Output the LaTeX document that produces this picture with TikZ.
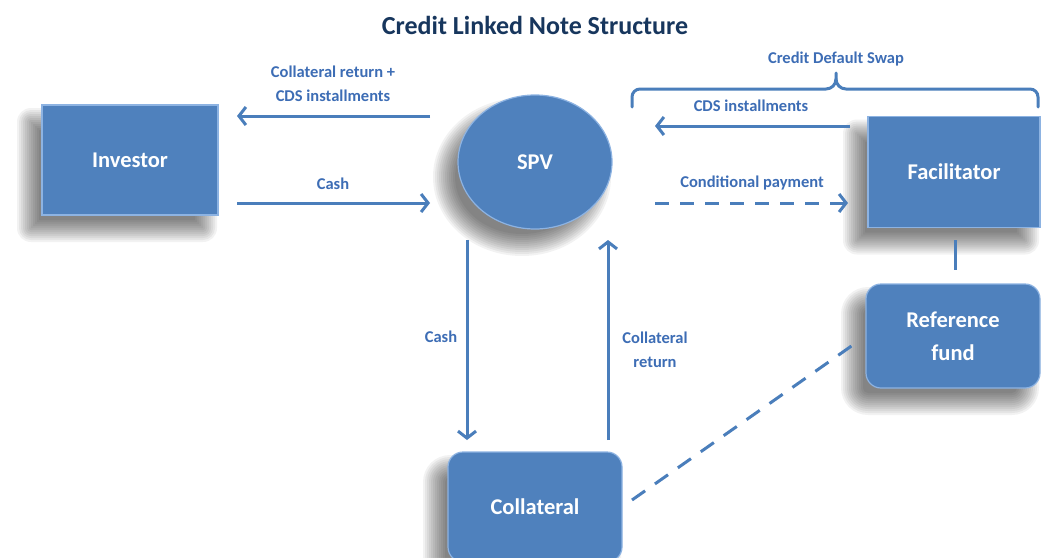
\documentclass[tikz,border=0pt]{standalone}
\usepackage{fontspec}
\setmainfont{Carlito}
\usetikzlibrary{arrows.meta,shapes.geometric}
\definecolor{boxblue}{HTML}{4F81BD}
\definecolor{edgeblue}{HTML}{8DB3E2}
\definecolor{flowblue}{HTML}{4A7EBB}
\definecolor{labelblue}{HTML}{3D6DB5}
\definecolor{titlenavy}{HTML}{17365D}
\tikzset{
  shade layer/.style={fill=black, opacity=0.05},
  block/.style={fill=boxblue, draw=edgeblue, line width=1.2pt, text=white,
    font=\bfseries\fontsize{22.5}{33}\selectfont, align=center, inner sep=0pt},
  flow/.style={draw=flowblue, line width=3pt,
    -{Straight Barb[length=7pt,width=18pt]}},
  dashflow/.style={flow, dash pattern=on 14pt off 11pt},
  link/.style={draw=flowblue, line width=3pt},
  flowlabel/.style={text=labelblue, font=\bfseries\fontsize{16.5}{24.5}\selectfont,
    align=center, inner sep=0pt},
}
% soft drop shadow under a (rounded) box: centre x, centre y, width, height, corner radius
\newcommand\boxshade[5]{%
  \foreach \k in {0,...,11}{%
    \pgfmathsetmacro\dd{12-2*\k}%
    \pgfmathsetmacro\rr{max(#5+\dd,0.5)}%
    \fill[shade layer, rounded corners=\rr pt]
      (#1-13-#3/2-\dd, #2+15-#4/2-\dd) rectangle (#1-13+#3/2+\dd, #2+15+#4/2+\dd);
  }}
% soft drop shadow under an ellipse: centre x, centre y, x radius, y radius
\newcommand\ovalshade[4]{%
  \foreach \k in {0,...,11}{%
    \pgfmathsetmacro\dd{12-2*\k}%
    \fill[shade layer] (#1-13, #2+15) ellipse [x radius=#3+\dd, y radius=#4+\dd];
  }}
\begin{document}
\begin{tikzpicture}[x=1pt,y=-1pt]
\useasboundingbox (0,0) rectangle (1043,557);
\fill[white] (0,0) rectangle (1043,557);

% title
\node[text=titlenavy, font=\bfseries\fontsize{26}{30}\selectfont] (title) at (535,25) {Credit Linked Note Structure};

% drop shadows
\boxshade{130}{160}{176}{110}{2}
\ovalshade{535}{162}{77}{67}
\boxshade{954}{172}{172}{111}{2}
\boxshade{953}{336}{174}{104}{15}
\boxshade{535}{507}{174}{110}{15}

% parties
\node[block, minimum width=176pt, minimum height=110pt] (investor) at (130,160) {Investor};
\node[block, ellipse, minimum width=154pt, minimum height=134pt] (spv) at (535,162) {SPV};
\node[block, minimum width=172pt, minimum height=111pt] (facilitator) at (954,172) {Facilitator};
\node[block, rounded corners=15pt, minimum width=174pt, minimum height=104pt] (reffund) at (953,336) {Reference\\fund};
\node[block, rounded corners=15pt, minimum width=174pt, minimum height=110pt] (collateral) at (535,507) {Collateral};

% arrow end points in the gaps between the parties
\coordinate (cr1) at (430,116);  \coordinate (cr2) at (237,116);
\coordinate (ca1) at (237,203);  \coordinate (ca2) at (430,203);
\coordinate (ci1) at (850,126);  \coordinate (ci2) at (655,126);
\coordinate (cp1) at (655,203);  \coordinate (cp2) at (848,203);
\coordinate (cd1) at (467,240);  \coordinate (cd2) at (467,440);
\coordinate (cu1) at (608,440);  \coordinate (cu2) at (608,240);
\coordinate (fr1) at (955,240);  \coordinate (fr2) at (955,270);
\coordinate (cf1) at (632,500);  \coordinate (cf2) at (860,340);

% flows between investor and SPV
\draw[flow] (cr1) -- (cr2);
\node[flowlabel] (lcr) at (333,84) {Collateral return +\\CDS installments};
\draw[flow] (ca1) -- (ca2);
\node[flowlabel] (lca) at (333,184) {Cash};

% flows between SPV and facilitator
\draw[flow] (ci1) -- (ci2);
\node[flowlabel] (lci) at (751,106) {CDS installments};
\draw[dashflow] (cp1) -- (cp2);
\node[flowlabel] (lcp) at (752,183) {Conditional payment};

% brace over the swap leg
\draw[link, line cap=round] (632,107) -- (632,97) to[out=90,in=180] (640,89) -- (826,89)
  to[out=0,in=-90] (836,79) -- (836,73);
\draw[link, line cap=round] (836,79) to[out=-90,in=180] (846,89) -- (1030,89)
  to[out=0,in=90] (1038,97) -- (1038,107);
\node[flowlabel] (lcds) at (836,59) {Credit Default Swap};

% flows between SPV and collateral
\draw[flow] (cd1) -- (cd2);
\node[flowlabel] (lcd) at (441,337) {Cash};
\draw[flow] (cu1) -- (cu2);
\node[flowlabel] (lcu) at (655,350) {Collateral\\return};

% reference links
\draw[link] (fr1) -- (fr2);
\draw[link, dash pattern=on 16pt off 12pt] (cf1) -- (cf2);
\end{tikzpicture}
\end{document}
